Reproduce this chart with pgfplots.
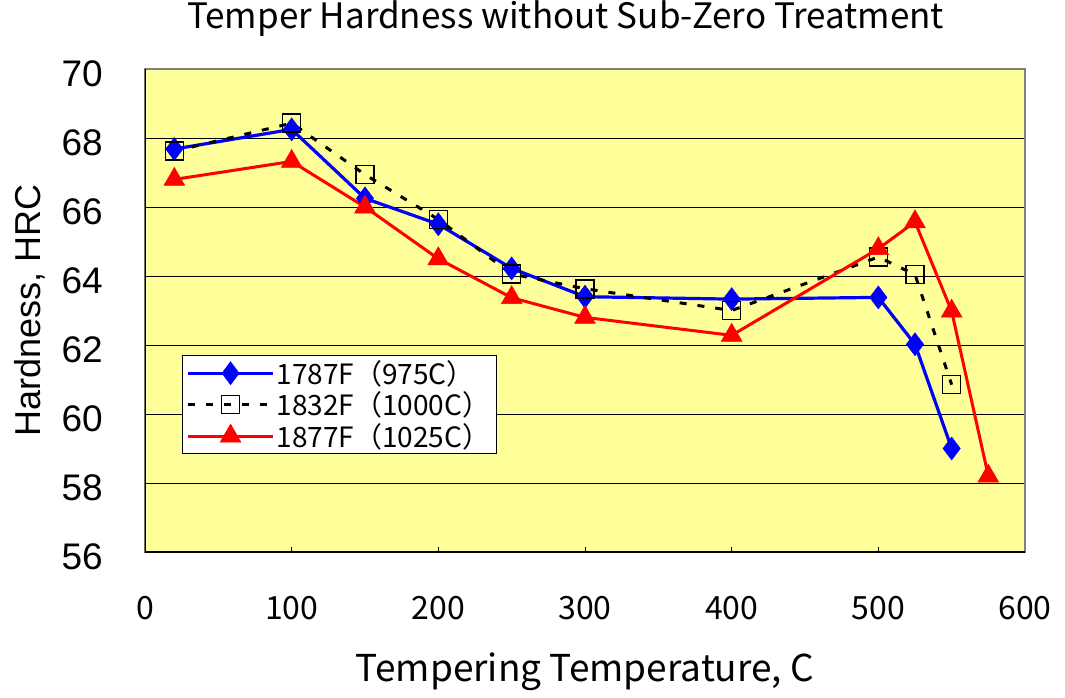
\documentclass[border=0pt]{standalone}
\usepackage{fontspec}
\setmainfont{Liberation Sans}
\newfontfamily\jp{Noto Sans CJK JP}
\usepackage{pgfplots}
\pgfplotsset{compat=1.18}
\usetikzlibrary{calc}
\definecolor{bgyellow}{RGB}{255,255,153}
\begin{document}
\begin{tikzpicture}
\begin{axis}[name=ax,
  scale only axis, width=880pt, height=483pt,
  xmin=0, xmax=600, ymin=56, ymax=70,
  xtick={0,100,...,600}, ytick={56,58,...,70},
  axis background/.style={fill=bgyellow},
  axis line style={draw=black!50, line width=1.5pt},
  ymajorgrids, grid style={black, line width=0.8pt},
  tick style={black, line width=0.8pt}, major tick length=5pt,
  tick align=inside, xtick pos=bottom, ytick pos=left,
  /pgf/number format/assume math mode=true,
  xticklabel style={font=\jp\fontsize{32}{34}\selectfont, anchor=base, inner sep=0pt, yshift=-67pt},
  yticklabel style={font=\fontsize{37}{40}\selectfont, anchor=base east, inner sep=0pt, xshift=-42pt, yshift=-17.5pt},
  every axis y label/.style={at={(axis description cs:-0.1307,0.5)}, rotate=90, anchor=center, font=\fontsize{36}{40}\selectfont},
  every axis x label/.style={at={(axis description cs:0.5,-0.2484)}, anchor=center, font=\jp\fontsize{37}{40}\selectfont},
  title style={at={(axis description cs:0.478,1.0704)}, anchor=base, inner sep=0pt, font=\jp\fontsize{35}{38}\selectfont},
  title={Temper Hardness without Sub-Zero Treatment},
  xlabel={Tempering Temperature, C},
  ylabel={Hardness, HRC},
  legend style={at={(axis description cs:0.042,0.408)}, anchor=north west, draw=black, line width=1pt, fill=white,
    font=\jp\fontsize{28}{30}\selectfont, inner xsep=4pt, inner ysep=3pt, row sep=2pt, cells={anchor=west}},
  legend image code/.code={
    \draw[#1] (0pt,0pt) -- (85pt,0pt);
    \draw[#1, solid] plot coordinates {(42.5pt,0pt)};
  },
]
\draw[black, line width=1.5pt] (rel axis cs:0,1) -- (rel axis cs:0,0) -- (rel axis cs:1,0);
\addplot[blue, line width=3.2pt, mark=diamond*, mark size=11.5pt, mark options={solid, fill=blue, line width=0.5pt}]
  coordinates {(20,67.68) (100,68.25) (150,66.25) (200,65.5) (250,64.22) (300,63.4) (400,63.33) (500,63.38) (525,62.02) (550,59.0)};
\addlegendentry{1787F（975C）}
\addplot[black, line width=3pt, dash pattern=on 7pt off 11pt, mark=square, mark size=9pt, mark options={solid, fill=none, line width=1.5pt, draw=black}]
  coordinates {(20,67.62) (100,68.43) (150,66.94) (200,65.64) (250,64.06) (300,63.63) (400,63.0) (500,64.55) (525,64.04) (550,60.85)};
\addlegendentry{1832F（1000C）}
\addplot[red, line width=3pt, mark=triangle*, mark size=12pt, mark options={solid, fill=red, line width=0.5pt}]
  coordinates {(20,66.8) (100,67.32) (150,66.0) (200,64.5) (250,63.37) (300,62.8) (400,62.28) (500,64.79) (525,65.57) (550,62.98) (575,58.2)};
\addlegendentry{1877F（1025C）}
\end{axis}
\pgfresetboundingbox
\path ($(ax.south west)+(-145pt,-145pt)$) rectangle ($(ax.north east)+(40pt,69pt)$);
\end{tikzpicture}
\end{document}
